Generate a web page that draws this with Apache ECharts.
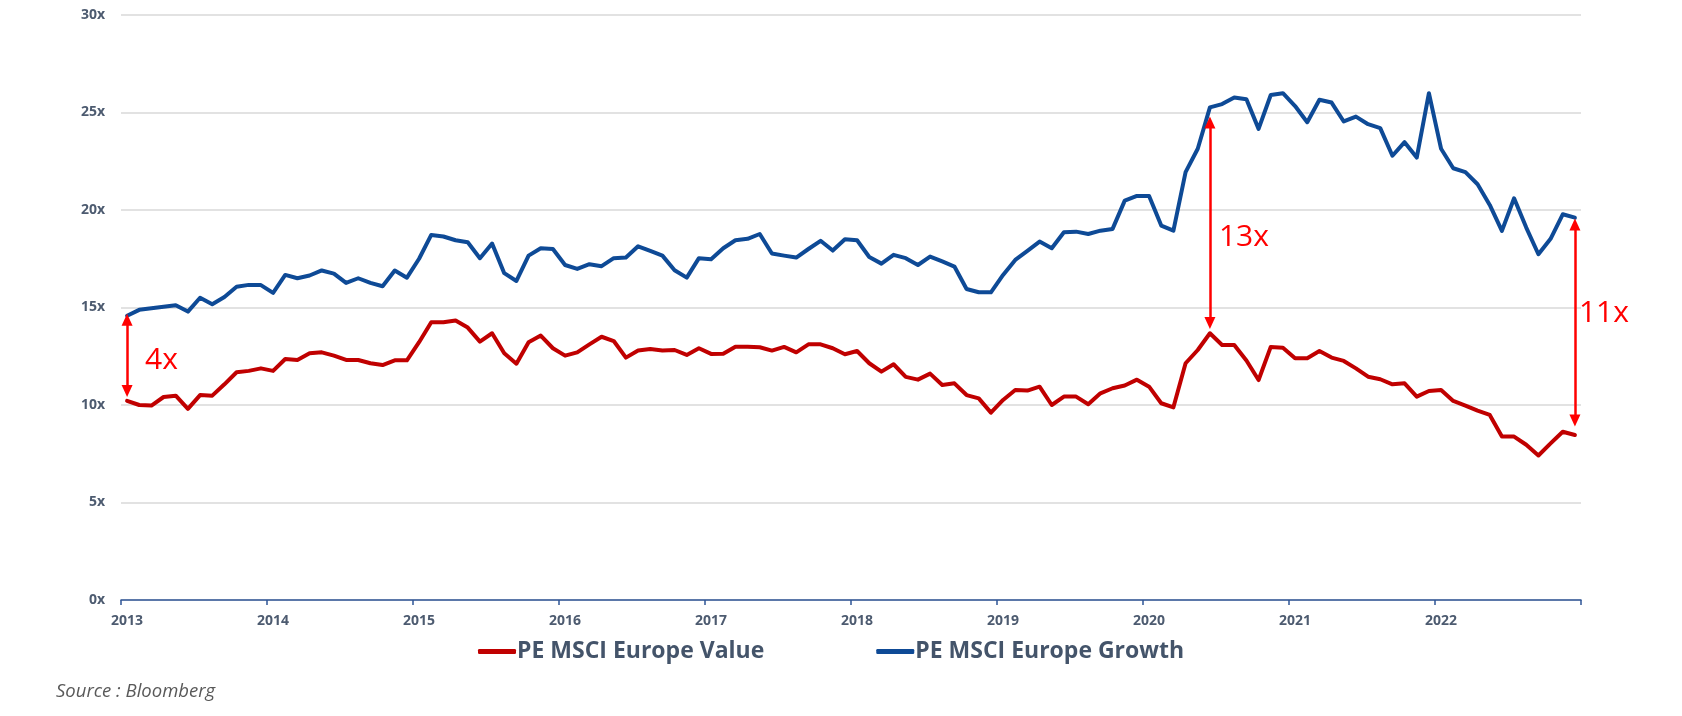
<!DOCTYPE html>
<html>
<head>
<meta charset="utf-8">
<script src="https://cdn.jsdelivr.net/npm/echarts@6/dist/echarts.min.js"></script>
<style>
html,body{margin:0;padding:0;background:#ffffff;}
#chart{width:1682px;height:716px;}
</style>
</head>
<body>
<div id="chart"></div>
<script>
// ---- Data ----
const startYear = 2013;
const yearCount = 10;
const months = [];
for (let y = 0; y < yearCount; y++) {
  for (let m = 1; m <= 12; m++) {
    months.push((startYear + y) + '-' + (m < 10 ? '0' + m : '' + m));
  }
}
const seriesNames = ['PE MSCI Europe Value', 'PE MSCI Europe Growth'];

const valuePE = [
  10.21, 10.0, 9.97, 10.41, 10.48, 9.8, 10.51, 10.48, 11.06, 11.68, 11.75, 11.88,
  11.75, 12.36, 12.31, 12.65, 12.7, 12.53, 12.31, 12.31, 12.14, 12.05, 12.29, 12.29,
  13.22, 14.24, 14.24, 14.33, 13.97, 13.25, 13.68, 12.65, 12.12, 13.22, 13.56, 12.91,
  12.53, 12.7, 13.11, 13.5, 13.28, 12.43, 12.79, 12.87, 12.79, 12.82, 12.57, 12.91,
  12.62, 12.63, 12.99, 12.99, 12.96, 12.79, 12.98, 12.7, 13.11, 13.11, 12.91, 12.6,
  12.77, 12.14, 11.71, 12.09, 11.44, 11.3, 11.61, 11.03, 11.11, 10.51, 10.34, 9.61,
  10.26, 10.77, 10.74, 10.94, 10.0, 10.43, 10.43, 10.04, 10.6, 10.86, 11.0, 11.3,
  10.94, 10.09, 9.88, 12.14, 12.82, 13.68, 13.08, 13.08, 12.28, 11.28, 12.98, 12.94,
  12.4, 12.4, 12.77, 12.43, 12.26, 11.88, 11.45, 11.32, 11.06, 11.11, 10.43, 10.72,
  10.77, 10.21, 9.97, 9.71, 9.49, 8.38, 8.38, 7.96, 7.41, 8.03, 8.63, 8.46
];

const growthPE = [
  14.58, 14.88, 14.96, 15.04, 15.12, 14.79, 15.5, 15.17, 15.54, 16.06, 16.16, 16.15,
  15.75, 16.67, 16.5, 16.64, 16.9, 16.74, 16.26, 16.5, 16.26, 16.09, 16.9, 16.53,
  17.5, 18.72, 18.64, 18.45, 18.35, 17.53, 18.28, 16.76, 16.36, 17.66, 18.04, 18.0,
  17.18, 16.98, 17.22, 17.12, 17.53, 17.56, 18.14, 17.9, 17.66, 16.91, 16.53, 17.53,
  17.48, 18.04, 18.45, 18.52, 18.77, 17.77, 17.66, 17.56, 18.0, 18.42, 17.92, 18.5,
  18.45, 17.59, 17.25, 17.7, 17.53, 17.18, 17.61, 17.36, 17.1, 15.95, 15.78, 15.78,
  16.67, 17.44, 17.9, 18.38, 18.04, 18.86, 18.89, 18.77, 18.94, 19.03, 20.48, 20.72,
  20.72, 19.2, 18.94, 21.94, 23.14, 25.26, 25.43, 25.77, 25.68, 24.16, 25.9, 25.99,
  25.33, 24.5, 25.65, 25.51, 24.54, 24.79, 24.4, 24.2, 22.78, 23.48, 22.69, 25.99,
  23.14, 22.14, 21.94, 21.32, 20.26, 18.93, 20.6, 19.1, 17.73, 18.52, 19.78, 19.61
];

// Spread annotations: month, arrow top value, arrow bottom value, label
const gapMonths = ['2013-01', '2020-06', '2022-12'];
const gapTop = [14.37, 24.49, 19.26];
const gapBottom = [10.72, 14.21, 9.2];
const gapLabels = ['4x', '13x', '11x'];

const yMin = 0, yMax = 30, yStep = 5;
const sourceText = 'Source : Bloomberg';

// ---- Styles ----
const RED = '#C00000';
const BLUE = '#0E4A96';
const ARROW = '#FF0000';
const AXIS_BLUE = '#2F5597';
const LABEL = '#4D5B70';
const FONT = '"Open Sans", "Noto Sans", sans-serif';

const labelTweaks = [
  {distance: 18, offset: [0, 5]},
  {distance: 9, offset: [0, 15]},
  {distance: 4, offset: [0, -9]}
];

const arrowLines = gapMonths.map((m, i) => [
  {coord: [m, gapTop[i]]},
  {coord: [m, gapBottom[i]]}
]);
const arrowTexts = gapMonths.map((m, i) => ({
  coord: [m, (gapTop[i] + gapBottom[i]) / 2],
  symbolSize: 0,
  label: {
    show: true,
    position: 'right',
    distance: labelTweaks[i].distance,
    offset: labelTweaks[i].offset,
    formatter: gapLabels[i],
    color: ARROW,
    fontSize: 30,
    fontFamily: FONT,
    fontWeight: 'normal'
  }
}));

const chart = echarts.init(document.getElementById('chart'), null, {renderer: 'canvas'});
chart.setOption({
  animation: false,
  backgroundColor: '#ffffff',
  title: {
    text: sourceText,
    left: 56,
    top: 682,
    padding: 0,
    textStyle: {
      fontStyle: 'italic',
      fontWeight: 'normal',
      fontSize: 18.5,
      color: '#595959',
      fontFamily: FONT
    }
  },
  legend: {
    data: seriesNames,
    left: 478,
    top: 640,
    padding: 0,
    itemGap: 112,
    itemWidth: 38,
    itemHeight: 5,
    icon: 'roundRect',
    textStyle: {
      fontSize: 23,
      fontWeight: 'bold',
      color: '#44546A',
      fontFamily: FONT,
      padding: [0, 0, 0, -4]
    }
  },
  grid: {left: 121, right: 101, top: 15, bottom: 116, containLabel: false},
  xAxis: {
    type: 'category',
    data: months,
    boundaryGap: true,
    axisLine: {show: true, lineStyle: {color: AXIS_BLUE, width: 1.5}},
    axisTick: {
      show: true,
      length: 5,
      interval: (idx) => idx % 12 === 0,
      lineStyle: {color: AXIS_BLUE, width: 1.5}
    },
    axisLabel: {
      interval: (idx) => idx % 12 === 0,
      formatter: (v) => v.slice(0, 4),
      margin: 14,
      color: LABEL,
      fontSize: 14,
      fontWeight: 'bold',
      fontFamily: FONT
    },
    splitLine: {show: false}
  },
  yAxis: {
    type: 'value',
    min: yMin,
    max: yMax,
    interval: yStep,
    axisLine: {show: false},
    axisTick: {show: false},
    axisLabel: {
      formatter: '{value}x',
      margin: 16,
      color: LABEL,
      fontSize: 14,
      fontWeight: 'bold',
      fontFamily: FONT
    },
    splitLine: {show: true, lineStyle: {color: '#D9D9D9', width: 1.5}}
  },
  series: [
    {
      name: seriesNames[0],
      type: 'line',
      data: valuePE,
      showSymbol: false,
      symbol: 'none',
      color: RED,
      lineStyle: {color: RED, width: 4, cap: 'round', join: 'round'},
      z: 3,
      markLine: {
        silent: true,
        symbol: ['triangle', 'triangle'],
        symbolSize: [11, 12],
        lineStyle: {color: ARROW, width: 2.5, type: 'solid'},
        itemStyle: {color: ARROW},
        label: {show: false},
        data: arrowLines,
        z: 5
      },
      markPoint: {
        silent: true,
        symbol: 'circle',
        data: arrowTexts,
        z: 5
      }
    },
    {
      name: seriesNames[1],
      type: 'line',
      data: growthPE,
      showSymbol: false,
      symbol: 'none',
      color: BLUE,
      lineStyle: {color: BLUE, width: 4, cap: 'round', join: 'round'},
      z: 3
    }
  ]
});
</script>
</body>
</html>
